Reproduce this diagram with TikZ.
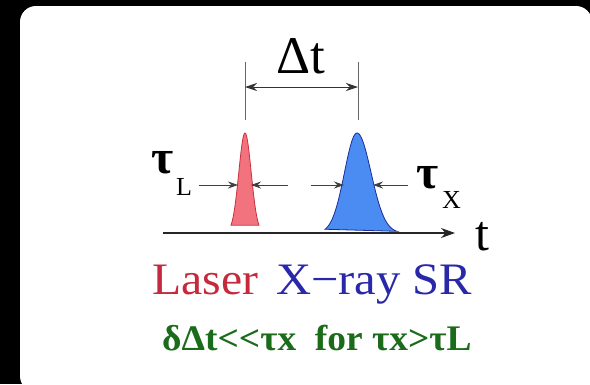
\documentclass[tikz,border=0pt]{standalone}
\usepackage{fontspec}
\setmainfont{Liberation Serif}
\usetikzlibrary{arrows.meta}
\definecolor{lasertxt}{HTML}{C42A3C}
\definecolor{xraytxt}{HTML}{2828A8}
\definecolor{greentxt}{HTML}{1A6B1A}
\definecolor{redfill}{HTML}{F2727E}
\definecolor{rededge}{HTML}{C8303C}
\definecolor{bluefill}{HTML}{4A8CF2}
\definecolor{blueedge}{HTML}{1C2C9C}
\tikzset{
  dimline/.style={draw=black!75, line width=0.9pt, -{Stealth[length=10pt,width=7pt]}},
  guide/.style={draw=black!60, line width=0.6pt},
  lbl/.style={inner sep=0pt, anchor=base}
}
\begin{document}
\begin{tikzpicture}[x=1pt,y=-1pt]
\useasboundingbox (0,0) rectangle (590,384);
\fill[black] (0,0) rectangle (590,384);
\fill[white, rounded corners=16pt] (20,6) rectangle (592,392);
% coordinates
\coordinate (axL) at (163,233);
\coordinate (axR) at (455,233);
\coordinate (rtop) at (245,62);
\coordinate (rbot) at (245,120);
\coordinate (btop) at (358,62);
\coordinate (bbot) at (358,120);
\coordinate (dA) at (245,87);
\coordinate (dB) at (358,87);
% pulses
\filldraw[fill=redfill, draw=rededge, line width=0.8pt]
  plot[domain=231:259, samples=80] (\x, {233-100*exp(-((\x-245)^2)/(2*6.2^2))}) -- cycle;
\filldraw[fill=bluefill, draw=blueedge, line width=0.8pt]
  plot[domain=325:397, samples=120] (\x, {233-100*exp(-((\x-357)^2)/(2*(\x<357 ? 12.5 : 14)^2))}) -- cycle;
% axis
\draw[line width=1.4pt, black!85, -{Stealth[length=14pt,width=10pt]}] (axL) -- (axR);
\node[lbl, font=\fontsize{50}{50}\selectfont] (tlab) at (482,250) {t};
% guide lines and delta t
\draw[guide] (rtop) -- (rbot);
\draw[guide] (btop) -- (bbot);
\draw[line width=0.9pt, black!80, {Stealth[length=12pt,width=8pt]}-{Stealth[length=12pt,width=8pt]}] (dA) -- (dB);
\node[lbl, font=\fontsize{53}{53}\selectfont] (dt) at (301,73) {Δt};
% tau L
\node[lbl, font=\bfseries\fontsize{48}{48}\selectfont, anchor=base west] (tauL) at (151,173) {τ};
\node[lbl, font=\fontsize{26}{26}\selectfont, anchor=base west] (subL) at (176,195) {L};
\coordinate (a1s) at (199,185); \coordinate (a1e) at (238,185);
\coordinate (a2s) at (288,185); \coordinate (a2e) at (251,185);
\draw[dimline] (a1s) -- (a1e);
\draw[dimline] (a2s) -- (a2e);
% tau X
\coordinate (b1s) at (311,185); \coordinate (b1e) at (344,185);
\coordinate (b2s) at (408,185); \coordinate (b2e) at (373,185);
\draw[dimline] (b1s) -- (b1e);
\draw[dimline] (b2s) -- (b2e);
\node[lbl, font=\bfseries\fontsize{48}{48}\selectfont, anchor=base west] (tauX) at (416,188) {τ};
\node[lbl, font=\fontsize{26}{26}\selectfont, anchor=base west] (subX) at (442,208) {X};
% labels
\node[lbl, anchor=base west, text=lasertxt, font=\fontsize{45}{45}\selectfont, xscale=1.06] (laser) at (152,294) {Laser};
\node[lbl, anchor=base west, text=xraytxt, font=\fontsize{45}{45}\selectfont, xscale=1.08] (xray) at (276,294) {X−ray SR};
\node[lbl, anchor=base west, text=greentxt, font=\bfseries\fontsize{36}{36}\selectfont, xscale=1.04] (cond) at (162,350) {δΔt<\kern0pt<\kern0pt τx\ \ for τx>τL};
\end{tikzpicture}
\end{document}
